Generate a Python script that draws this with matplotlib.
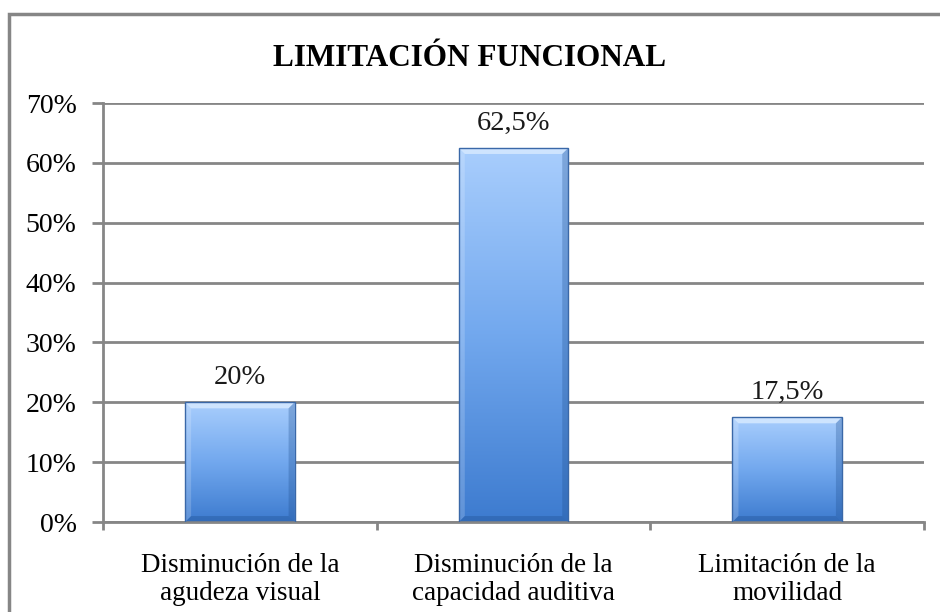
import numpy as np
import matplotlib.pyplot as plt
from matplotlib.colors import LinearSegmentedColormap
from matplotlib.patches import Rectangle, Polygon

categories = ["Disminución de la\nagudeza visual",
              "Disminución de la\ncapacidad auditiva",
              "Limitación de la\nmovilidad"]
values = [20, 62.5, 17.5]
value_labels = ["20%", "62,5%", "17,5%"]
yticks = [0, 10, 20, 30, 40, 50, 60, 70]

plt.rcParams['font.family'] = ['Liberation Serif', 'DejaVu Serif']
grey = "#868686"

fig = plt.figure(figsize=(9.4, 6.12), dpi=100)
ax = fig.add_axes([0.1096, 0.147, 0.8734, 0.6846])

x = np.arange(len(categories))
bars = ax.bar(x, values, width=0.4, color="none", edgecolor="#3a68a8",
              linewidth=1.0, zorder=3)

ax.set_xlim(-0.5, 2.5)
ax.set_ylim(0, 70)

# gradient fill + simple bevel for each bar
cmap = LinearSegmentedColormap.from_list("blu", ["#3d7bcf", "#72a8ee", "#a9cefd"])
grad = np.linspace(0, 1, 256).reshape(-1, 1)
bx = 6 * 3 / 821   # ~6px in x data units
by = 6 * 70 / 419  # ~6px in y data units
for b in bars:
    x0, y0 = b.get_x(), b.get_y()
    w, h = b.get_width(), b.get_height()
    im = ax.imshow(grad, extent=[x0, x0 + w, y0, y0 + h], origin="lower",
                   cmap=cmap, aspect="auto", zorder=2)
    im.set_clip_path(b)
    x1, y1 = x0 + w, y0 + h
    ax.add_patch(Polygon([(x0, y1), (x1, y1), (x1 - bx, y1 - by), (x0 + bx, y1 - by)],
                         facecolor="#d6e9ff", edgecolor="none", alpha=0.85, zorder=2.5))
    ax.add_patch(Polygon([(x0, y0), (x0 + bx, y0 + by), (x0 + bx, y1 - by), (x0, y1)],
                         facecolor="white", edgecolor="none", alpha=0.18, zorder=2.5))
    ax.add_patch(Polygon([(x1, y0), (x1 - bx, y0 + by), (x1 - bx, y1 - by), (x1, y1)],
                         facecolor="#1f4f8f", edgecolor="none", alpha=0.3, zorder=2.5))
    ax.add_patch(Polygon([(x0, y0), (x1, y0), (x1 - bx, y0 + by), (x0 + bx, y0 + by)],
                         facecolor="#1f4f8f", edgecolor="none", alpha=0.35, zorder=2.5))

ax.bar_label(bars, labels=value_labels, padding=9, fontsize=20.5, color="#1a1a1a")

ax.set_yticks(yticks)
ax.set_yticklabels([f"{t}%" for t in yticks], fontsize=20)
ax.set_xticks(x)
ax.set_xticklabels(categories, fontsize=19.5, linespacing=1.2)
ax.set_xticks([-0.5, 0.5, 1.5, 2.5], minor=True)
ax.tick_params(axis="x", which="major", length=0, pad=22)
ax.tick_params(axis="x", which="minor", length=6, width=2, color=grey)
ax.tick_params(axis="y", length=8, width=2, color=grey, pad=11)

ax.grid(axis="y", color=grey, linewidth=2, zorder=0)
ax.set_axisbelow(True)
for side in ["top", "right"]:
    ax.spines[side].set_visible(False)
for side in ["left", "bottom"]:
    ax.spines[side].set_color(grey)
    ax.spines[side].set_linewidth(2)

fig.text(0.5, 0.905, "LIMITACIÓN FUNCIONAL", ha="center", va="center",
         fontsize=22.5, fontweight="bold")

# outer chart frame
fig.add_artist(Rectangle((8.5 / 940, -0.01), 1.02, 1 - 13.5 / 612 + 0.01,
                         transform=fig.transFigure, fill=False,
                         edgecolor=grey, linewidth=2.5))

fig.savefig("out.png", dpi=100)
